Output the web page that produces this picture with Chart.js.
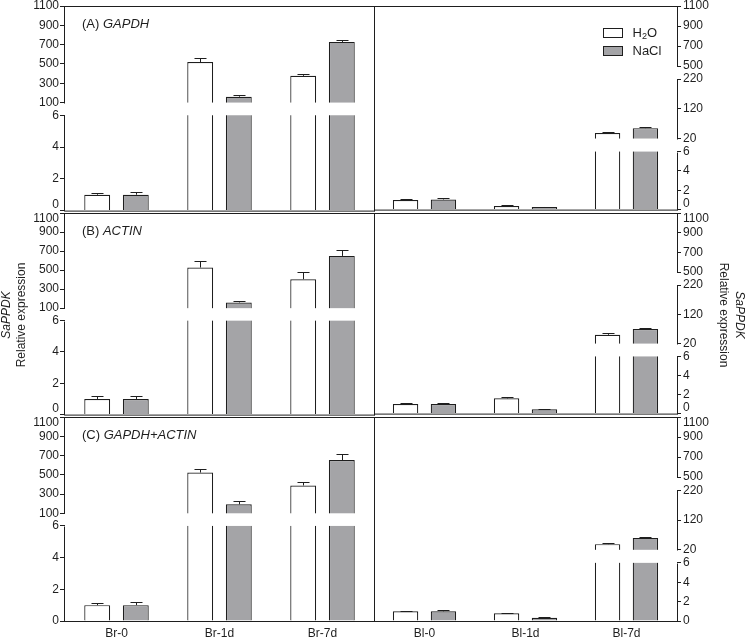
<!DOCTYPE html>
<html>
<head>
<meta charset="utf-8">
<script src="https://cdn.jsdelivr.net/npm/chart.js"></script>
<style>
  html, body { margin: 0; padding: 0; background: #fff; }
  #fig { position: relative; width: 746px; height: 639px; overflow: hidden; background: #fff; }
  #fig canvas { position: absolute; }
</style>
</head>
<body>
<div id="fig"></div>
<script>
// ---- data ----
const brCategories = ['Br-0', 'Br-1d', 'Br-7d'];
const blCategories = ['Bl-0', 'Bl-1d', 'Bl-7d'];
const seriesNames = ['H2O', 'NaCl'];
const panelTags = ['(A)', '(B)', '(C)'];
const refGenes = ['GAPDH', 'ACTIN', 'GAPDH+ACTIN'];

const leftTicks = [0, 2, 4, 6, 100, 300, 500, 700, 900, 1100];
const rightTicks = [0, 2, 4, 6, 20, 120, 220, 500, 700, 900, 1100];

// (A) GAPDH
const gapdhBrH2O = [1.0, 520, 377];
const gapdhBrH2OErr = [0.12, 37, 20];
const gapdhBrNaCl = [1.0, 161, 728];
const gapdhBrNaClErr = [0.18, 14, 24];
const gapdhBlH2O = [1.0, 0.37, 38.6];
const gapdhBlH2OErr = [0.08, 0.07, 2.4];
const gapdhBlNaCl = [1.05, 0.27, 55];
const gapdhBlNaClErr = [0.13, 0.04, 3];

// (B) ACTIN
const actinBrH2O = [1.0, 527, 404];
const actinBrH2OErr = [0.16, 66, 81];
const actinBrNaCl = [1.0, 160, 649];
const actinBrNaClErr = [0.16, 10, 63];
const actinBlH2O = [1.0, 1.6, 50];
const actinBlH2OErr = [0.08, 0.1, 6];
const actinBlNaCl = [1.0, 0.45, 70];
const actinBlNaClErr = [0.1, 0.05, 4];

// (C) GAPDH+ACTIN
const bothBrH2O = [1.0, 523, 389];
const bothBrH2OErr = [0.15, 41, 41];
const bothBrNaCl = [1.0, 193, 653];
const bothBrNaClErr = [0.2, 31, 61];
const bothBlH2O = [1.0, 0.8, 39];
const bothBlH2OErr = [0.07, 0.06, 4];
const bothBlNaCl = [1.0, 0.34, 60];
const bothBlNaClErr = [0.1, 0.03, 3];

const panels = [
  { br: [gapdhBrH2O, gapdhBrNaCl], brErr: [gapdhBrH2OErr, gapdhBrNaClErr],
    bl: [gapdhBlH2O, gapdhBlNaCl], blErr: [gapdhBlH2OErr, gapdhBlNaClErr] },
  { br: [actinBrH2O, actinBrNaCl], brErr: [actinBrH2OErr, actinBrNaClErr],
    bl: [actinBlH2O, actinBlNaCl], blErr: [actinBlH2OErr, actinBlNaClErr] },
  { br: [bothBrH2O, bothBrNaCl], brErr: [bothBrH2OErr, bothBrNaClErr],
    bl: [bothBlH2O, bothBlNaCl], blErr: [bothBlH2OErr, bothBlNaClErr] },
];

// ---- layout ----
const FONT = '"Liberation Sans", Arial, sans-serif';
const INK = '#1e1e1e';
const GREY = '#a4a4a7';
const ROWS = [{ top: 6, bottom: 213 }, { top: 213, bottom: 417 }, { top: 417, bottom: 621 }];

// axis pieces: value range [lo,hi] drawn over fraction [a,b] of the plot height
const SEGMENTS = {
  left: [{ lo: 0, hi: 6, a: 0, b: 0.466 }, { lo: 100, hi: 1100, a: 0.528, b: 1 }],
  right: [{ lo: 0, hi: 6, a: 0, b: 0.285 }, { lo: 20, hi: 220, a: 0.349, b: 0.641 },
          { lo: 500, hi: 1100, a: 0.705, b: 1 }],
};

function toDecimal(segs, v) {
  const lin = (s, v) => s.a + (v - s.lo) / (s.hi - s.lo) * (s.b - s.a);
  if (v <= segs[0].lo) return lin(segs[0], v);
  for (let i = 0; i < segs.length; i++) {
    const s = segs[i];
    if (v <= s.hi) {
      if (v >= s.lo) return lin(s, v);
      const p = segs[i - 1];
      return p.b + (v - p.hi) / (s.lo - p.hi) * (s.a - p.b);
    }
  }
  return lin(segs[segs.length - 1], v);
}

// linear scale with broken (piecewise) axis
class BrokenScale extends Chart.LinearScale {
  buildTicks() {
    return this.options.tickValues.map(v => ({ value: v }));
  }
  getPixelForValue(v) {
    return this.getPixelForDecimal(toDecimal(SEGMENTS[this.options.segmentSet], v));
  }
}
BrokenScale.id = 'broken';
BrokenScale.defaults = {};
Chart.register(BrokenScale);

function drawFormula(ctx, text, x, y, size) {
  // digits drawn as subscripts
  let cx = x;
  for (const ch of text) {
    if (/[0-9]/.test(ch)) {
      ctx.font = (size * 0.7) + 'px ' + FONT;
      ctx.fillText(ch, cx, y + 3);
    } else {
      ctx.font = size + 'px ' + FONT;
      ctx.fillText(ch, cx, y);
    }
    cx += ctx.measureText(ch).width;
  }
}

const panelDecor = {
  id: 'panelDecor',
  afterDatasetsDraw(chart) {
    const ctx = chart.ctx;
    const y = chart.scales.y;
    const area = chart.chartArea;
    ctx.save();
    // error bars (upper only)
    ctx.strokeStyle = INK;
    ctx.lineWidth = 1;
    chart.data.datasets.forEach((ds, di) => {
      chart.getDatasetMeta(di).data.forEach((bar, i) => {
        const x = Math.round(bar.x) + 0.5;
        const yErr = Math.round(y.getPixelForValue(ds.data[i] + ds.errors[i])) + 0.5;
        ctx.beginPath();
        ctx.moveTo(x, bar.y);
        ctx.lineTo(x, yErr);
        ctx.moveTo(x - 6, yErr);
        ctx.lineTo(x + 6, yErr);
        ctx.stroke();
      });
    });
    // white bands where the axis is broken
    const segs = SEGMENTS[y.options.segmentSet];
    ctx.fillStyle = '#ffffff';
    for (let k = 1; k < segs.length; k++) {
      const y1 = y.getPixelForValue(segs[k - 1].hi);
      const y2 = y.getPixelForValue(segs[k].lo);
      ctx.fillRect(area.left + 1, y2, area.right - area.left - 2, y1 - y2);
    }
    ctx.restore();
  },
  afterDraw(chart, args, opts) {
    const ctx = chart.ctx;
    const y = chart.scales.y;
    const area = chart.chartArea;
    const segs = SEGMENTS[y.options.segmentSet];
    ctx.save();
    ctx.strokeStyle = INK;
    ctx.lineWidth = 1;
    ctx.beginPath();
    // top and bottom frame
    ctx.moveTo(area.left, area.top + 0.5);
    ctx.lineTo(area.right, area.top + 0.5);
    ctx.moveTo(area.left, area.bottom + 0.5);
    ctx.lineTo(area.right + 0.5, area.bottom + 0.5);
    if (opts.side === 'left') {
      // divider between the two columns
      ctx.moveTo(area.right + 0.5, area.top);
      ctx.lineTo(area.right + 0.5, area.bottom + 1);
    }
    // broken value axis
    const ax = opts.side === 'left' ? area.left - 0.5 : area.right + 0.5;
    segs.forEach(s => {
      ctx.moveTo(ax, Math.round(y.getPixelForValue(s.lo)) + 0.5);
      ctx.lineTo(ax, Math.round(y.getPixelForValue(s.hi)) + 0.5);
    });
    ctx.stroke();

    ctx.fillStyle = INK;
    ctx.textBaseline = 'middle';
    ctx.textAlign = 'left';
    // panel caption
    if (opts.tag) {
      ctx.font = '13px ' + FONT;
      const x0 = area.left + 17;
      const y0 = area.top + 18.5;
      const tag = opts.tag + ' ';
      ctx.fillText(tag, x0, y0);
      const w = ctx.measureText(tag).width;
      ctx.font = 'italic 13px ' + FONT;
      ctx.fillText(opts.gene, x0 + w, y0);
    }
    // legend
    if (opts.legend) {
      chart.data.datasets.forEach((ds, i) => {
        const bx = Math.round(area.right - 74) + 0.5;
        const by = Math.round(area.top + 22 + i * 18) + 0.5;
        ctx.fillStyle = ds.backgroundColor;
        ctx.fillRect(bx, by, 19, 9);
        ctx.strokeRect(bx, by, 19, 9);
        ctx.fillStyle = INK;
        drawFormula(ctx, ds.label, bx + 29, by + 4.5, 13);
      });
    }
    // value-axis title
    if (opts.title) {
      const cy = 315 - opts.offsetY;
      const lines = opts.side === 'left' ? [7, 22] : [739, 723];
      ctx.textAlign = 'center';
      ctx.font = 'italic 12px ' + FONT;
      ctx.save();
      ctx.translate(lines[0] - opts.offsetX, cy);
      ctx.rotate(opts.side === 'left' ? -Math.PI / 2 : Math.PI / 2);
      ctx.fillText('SaPPDK', 0, 0);
      ctx.restore();
      ctx.font = '12px ' + FONT;
      ctx.save();
      ctx.translate(lines[1] - opts.offsetX, cy);
      ctx.rotate(opts.side === 'left' ? -Math.PI / 2 : Math.PI / 2);
      ctx.fillText('Relative expression', 0, 0);
      ctx.restore();
    }
    ctx.restore();
  }
};

const fig = document.getElementById('fig');

function buildPanel(rowIdx, side) {
  const row = ROWS[rowIdx];
  const isLeft = side === 'left';
  const last = rowIdx === ROWS.length - 1;
  const xAxisH = last ? 18 : 0;
  const padBottom = last ? 0 : 10;
  const cLeft = isLeft ? 0 : 368;
  const cWidth = isLeft ? 380 : 378;
  const cTop = row.top - 20;
  const cHeight = 20 + (row.bottom - row.top) + xAxisH + padBottom;

  const canvas = document.createElement('canvas');
  canvas.width = cWidth;
  canvas.height = cHeight;
  canvas.style.left = cLeft + 'px';
  canvas.style.top = cTop + 'px';
  canvas.style.width = cWidth + 'px';
  canvas.style.height = cHeight + 'px';
  fig.appendChild(canvas);

  const p = panels[rowIdx];
  const values = isLeft ? p.br : p.bl;
  const errs = isLeft ? p.brErr : p.blErr;
  const shiftTop = rowIdx > 0;
  const shiftBottom = !last;

  return new Chart(canvas, {
    type: 'bar',
    data: {
      labels: isLeft ? brCategories : blCategories,
      datasets: seriesNames.map((name, k) => ({
        label: name,
        data: values[k],
        errors: errs[k],
        backgroundColor: k === 0 ? '#ffffff' : GREY,
        borderColor: INK,
        borderWidth: 1.2,
        categoryPercentage: 0.75,
        barPercentage: 0.67,
      })),
    },
    options: {
      responsive: false,
      animation: false,
      devicePixelRatio: 1,
      layout: { padding: { top: 20, bottom: padBottom, left: isLeft ? 0 : 6, right: isLeft ? 6 : 0 } },
      plugins: {
        legend: { display: false },
        tooltip: { enabled: false },
        panelDecor: {
          side: side,
          tag: isLeft ? panelTags[rowIdx] : null,
          gene: refGenes[rowIdx],
          legend: !isLeft && rowIdx === 0,
          title: rowIdx === 1,
          offsetX: cLeft,
          offsetY: cTop,
        },
      },
      scales: {
        x: {
          grid: { display: false, drawTicks: false },
          border: { display: false },
          ticks: { display: last, color: INK, padding: 5, font: { family: FONT, size: 12 } },
          afterFit: s => { s.height = xAxisH; },
        },
        y: {
          type: 'broken',
          position: isLeft ? 'left' : 'right',
          min: 0,
          max: 1100,
          segmentSet: side,
          tickValues: isLeft ? leftTicks : rightTicks,
          border: { display: false },
          grid: { drawOnChartArea: false, drawTicks: true, tickLength: isLeft ? 5 : 4, color: INK, lineWidth: 1 },
          ticks: {
            autoSkip: false,
            padding: isLeft ? 1 : 2,
            color: INK,
            font: { family: FONT, size: 12, lineHeight: 0.95 },
            callback: (value, i, ticks) => {
              const s = String(value);
              if (shiftTop && i === ticks.length - 1) return ['', s];
              if (shiftBottom && i === 0) return [s, ''];
              return s;
            },
          },
          afterFit: s => { s.width = isLeft ? 65 : 69; },
        },
      },
    },
    plugins: [panelDecor],
  });
}

for (let r = 0; r < ROWS.length; r++) {
  buildPanel(r, 'left');
  buildPanel(r, 'right');
}
</script>
</body>
</html>
